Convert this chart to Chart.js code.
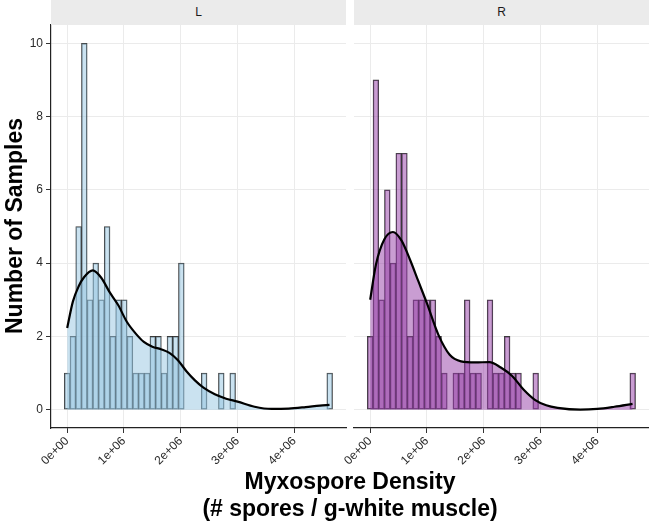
<!DOCTYPE html>
<html><head><meta charset="utf-8">
<script src="https://cdn.jsdelivr.net/npm/chart.js@4.4.1/dist/chart.umd.min.js"></script>
<style>
html,body{margin:0;padding:0;background:#fff;overflow:hidden}
#wrap{position:relative;width:649px;height:525px;font-family:"Liberation Sans",Arial,Helvetica,sans-serif}
canvas{position:absolute;left:0;top:0}
.strip{position:absolute;top:0;height:25px;background:#ebebeb;color:#1a1a1a;font-size:12px;line-height:25px;text-align:center}
.title{position:absolute;font-weight:bold;font-size:23px;color:#000;text-align:center;white-space:nowrap}
</style></head>
<body>
<div id="wrap">
  <canvas id="cL" width="649" height="525"></canvas>
  <canvas id="cR" width="649" height="525"></canvas>
  <div class="strip" style="left:51px;width:295px">L</div>
  <div class="strip" style="left:354px;width:295px">R</div>
  <div class="title" style="left:-186px;top:212px;width:400px;height:28px;line-height:28px;transform:rotate(-90deg)">Number of Samples</div>
  <div class="title" style="left:51px;top:467px;width:598px;line-height:28px">Myxospore Density</div>
  <div class="title" style="left:51px;top:494px;width:598px;line-height:28px">(# spores / g-white muscle)</div>
</div>
<script>
// ---- data ----
const panels = ["L", "R"];
const BIN_WIDTH = 100500; // histogram bin width (# spores / g)
const countsL = [1,2,5,10,3,4,3,5,2,3, 3,2,1,1,1,2,2,1,2,2, 4,0,0,0,1,0,0,1,0,1, 0,0,0,0,0,0,0,0,0,0, 0,0,0,0,0,0,1];
const countsR = [2,9,3,6,4,7,7,2,3,3, 3,3,2,1,0,1,1,3,1,1, 0,3,1,1,2,1,1,0,0,1, 0,0,0,0,0,0,0,0,0,0, 0,0,0,0,0,0,1];
// density curve (scaled to counts), x in millions
const densLx = [0,0.1,0.2,0.3,0.45,0.6,0.75,0.9,1.05,1.2,1.35,1.5,1.65,1.8,1.95,2.1,2.25,2.4,2.6,2.8,3.0,3.3,3.6,3.9,4.2,4.45,4.62];
const densLy = [2.23,2.95,3.36,3.62,3.80,3.60,3.20,2.85,2.40,2.09,1.85,1.72,1.65,1.55,1.35,1.05,0.80,0.60,0.42,0.30,0.22,0.08,0.02,0.03,0.07,0.11,0.13];
const densRx = [0,0.1,0.25,0.4,0.55,0.7,0.85,1.0,1.2,1.4,1.6,1.85,2.1,2.3,2.5,2.7,2.9,3.1,3.3,3.7,4.0,4.3,4.62];
const densRy = [3.0,3.95,4.65,4.85,4.62,4.1,3.5,2.9,2.05,1.5,1.32,1.29,1.30,1.15,0.92,0.55,0.27,0.12,0.05,0.0,0.02,0.08,0.16];
const xTickValues = [0,1e6,2e6,3e6,4e6];
const xTickLabels = ["0e+00","1e+06","2e+06","3e+06","4e+06"];
const yTickValues = [0,2,4,6,8,10];

// ---- styling ----
const X_MIN = -0.285e6, X_MAX = 4.91e6, Y_MIN = -0.5, Y_MAX = 10.5;
const FONT = '"Liberation Sans", Arial, sans-serif';
const fills = { L: 'rgba(150,198,226,0.5)', R: 'rgba(147,59,165,0.5)' };

function makeChart(id, panel, counts, dx, dy) {
  const isLeft = panel === 'L';
  const bars = counts.map((c, i) => ({ x: i * BIN_WIDTH, y: c }));
  const dens = dx.map((x, i) => ({ x: x * 1e6, y: dy[i] }));
  return new Chart(document.getElementById(id), {
    type: 'bar',
    data: {
      datasets: [
        { type: 'line', data: dens, borderColor: '#000', borderWidth: 2.2, backgroundColor: fills[panel],
          fill: 'origin', pointRadius: 0, cubicInterpolationMode: 'monotone', order: 0 },
        { type: 'bar', data: bars, backgroundColor: fills[panel], borderColor: 'rgba(0,0,0,0.75)',
          borderWidth: 0.8, borderSkipped: false, barPercentage: 1, categoryPercentage: 1, order: 1 }
      ]
    },
    options: {
      responsive: false, animation: false, devicePixelRatio: 1,
      layout: { padding: { left: isLeft ? 0 : 354, right: isLeft ? 303 : 0, top: 25, bottom: 0 } },
      plugins: { legend: { display: false }, tooltip: { enabled: false }, title: { display: false } },
      scales: {
        x: {
          type: 'linear', min: X_MIN, max: X_MAX, offset: false,
          afterFit: s => { s.height = 97; },
          afterBuildTicks: s => { s.ticks = xTickValues.map(v => ({ value: v })); },
          ticks: { autoSkip: false, minRotation: 45, maxRotation: 45, padding: 1,
                   callback: (v, i) => xTickLabels[i], color: '#2a2a2a', font: { family: FONT, size: 12 } },
          grid: { color: '#ebebeb', lineWidth: 1, tickLength: 5, tickColor: '#333', offset: false },
          border: { color: '#222', width: 1.2 }
        },
        y: {
          min: Y_MIN, max: Y_MAX,
          afterFit: s => { s.width = isLeft ? 51 : 0; },
          afterBuildTicks: s => { s.ticks = yTickValues.map(v => ({ value: v })); },
          ticks: { display: isLeft, padding: 3, color: '#2a2a2a', font: { family: FONT, size: 12 } },
          grid: { color: '#ebebeb', lineWidth: 1, drawTicks: isLeft, tickLength: 5, tickColor: '#333' },
          border: { display: isLeft, color: '#222', width: 1.2 }
        }
      }
    }
  });
}
makeChart('cL', 'L', countsL, densLx, densLy);
makeChart('cR', 'R', countsR, densRx, densRy);
</script>
</body></html>
